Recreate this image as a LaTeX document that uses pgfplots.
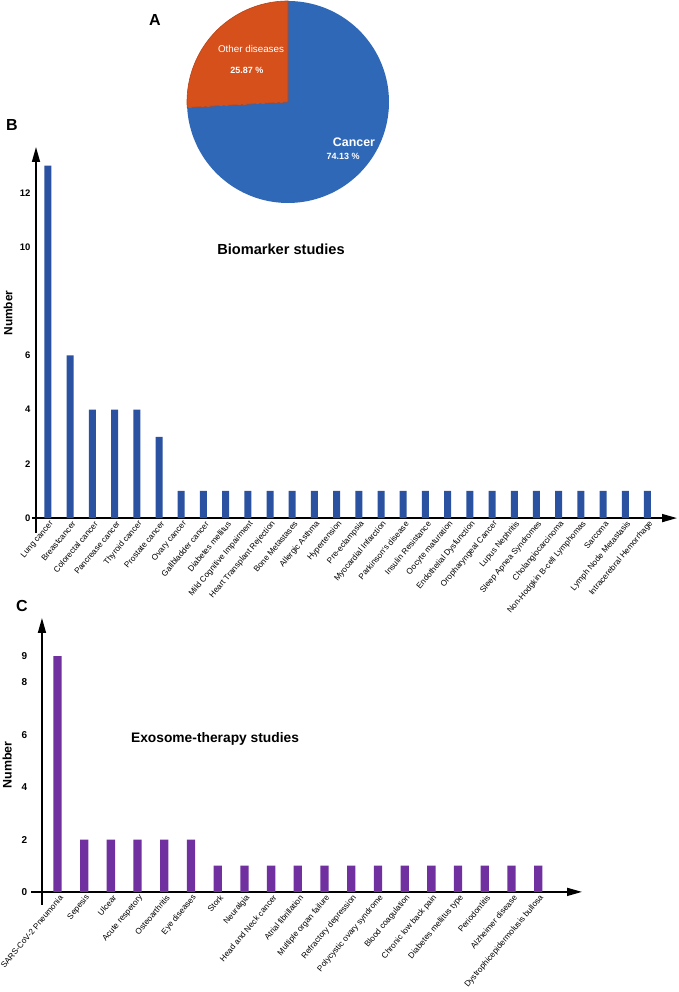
\documentclass[border=0pt]{standalone}
\usepackage{pgfplots}
\pgfplotsset{compat=1.18}
\usepackage{pgfplotstable}
\usepackage{fontspec}
\setmainfont{Liberation Sans}
\usetikzlibrary{arrows.meta}
\definecolor{pieblue}{HTML}{2F68B6}
\definecolor{pieorange}{HTML}{D6501C}
\definecolor{barblue}{HTML}{2A52A0}
\definecolor{barpurple}{HTML}{7030A0}

% share of studies (percent)
\def\pOther{25.87}
\def\pCancer{74.13}

% number of biomarker studies, in the order of the tick labels
\pgfplotstableread{
n
13
6
4
4
4
3
1
1
1
1
1
1
1
1
1
1
1
1
1
1
1
1
1
1
1
1
1
1
}\biomarker

% number of exosome-therapy studies
\pgfplotstableread{
n
9
2
2
2
2
2
1
1
1
1
1
1
1
1
1
1
1
1
1
}\exosome

\pgfplotsset{
  barpanel/.style={
    axis lines=middle,
    scale only axis,
    clip=false,
    ybar,
    tick style={draw=none},
    hide obscured x ticks=false,
    hide obscured y ticks=false,
    every inner x axis line/.append style={line width=1.6pt, -{Triangle[length=15pt,width=8pt]}},
    every inner y axis line/.append style={line width=1.6pt, -{Triangle[length=15pt,width=8pt]}},
    /pgf/number format/assume math mode=true,
    xticklabel style={rotate=50, anchor=east, inner sep=1pt, yshift=-3pt, xshift=3.5pt,
      font=\fontsize{8.2}{9}\selectfont},
    yticklabel style={font=\bfseries\fontsize{9.5}{10}\selectfont},
  },
}

\begin{document}
\begin{tikzpicture}
\useasboundingbox (0pt,0pt) rectangle (679pt,992pt);

% ---- A: pie ----
\begin{axis}[
  at={(187pt,789pt)}, anchor=south west,
  scale only axis, width=202pt, height=202pt,
  xmin=-1, xmax=1, ymin=-1, ymax=1,
  hide axis, clip=false,
]
\pgfmathsetmacro{\aEnd}{90+3.6*\pOther}
\addplot[fill=pieblue, draw=none, samples=120, domain=\aEnd:450, variable=\t]
  ({cos(\t)},{sin(\t)}) -- (axis cs:0,0) -- cycle;
\addplot[fill=pieorange, draw=pieorange!85!black, line width=0.6pt, samples=60, domain=90:\aEnd, variable=\t]
  ({cos(\t)},{sin(\t)}) -- (axis cs:0,0) -- cycle;
\node[white, font=\fontsize{9.8}{11}\selectfont] at (axis cs:-0.366,0.525) {Other diseases};
\node[white, font=\bfseries\fontsize{9}{10}\selectfont] at (axis cs:-0.406,0.317) {\pOther\ \%};
\node[white, font=\bfseries\fontsize{12.4}{14}\selectfont] at (axis cs:0.653,-0.396) {Cancer};
\node[white, font=\bfseries\fontsize{9}{10}\selectfont] at (axis cs:0.545,-0.535) {\pCancer\ \%};
\end{axis}

% ---- B: biomarker studies ----
\begin{axis}[
  barpanel,
  at={(32pt,459pt)}, anchor=south west,
  width=645pt, height=386pt,
  xmin=-0.18, xmax=28.87,
  ymin=-0.55, ymax=13.69,
  bar width=7pt,
  ytick={0,2,4,6,10,12},
  xtick={0.54,1.54,...,27.54},
  xticklabels={Lung cancer, Breastcancer, Colorectal cancer, Pancrease cancer,
    Thyroid cancer, Prostate cancer, Ovary cancer, Gallbladder cancer,
    Diabetes mellitus, Mild Cognitive Impairment, Heart Transplant Rejection,
    Bone Metastases, Allergic Asthma, Hypertension, Pre-eclampsia,
    Myocardial Infarction, Parkinson's disease, Insulin Resistance,
    Oocyte maturation, Endothelial Dysfunction, Oropharyngeal Cancer,
    Lupus Nephritis, Sleep Apnea Syndromes, Cholangiocarcinoma,
    Non-Hodgkin B-cell Lymphomas, Sarcoma, Lymph Node Metastasis,
    Intracerebral Hemorrhage},
  ylabel={Number},
  ylabel style={at={(rel axis cs:-0.037,0.57)}, anchor=center, rotate=90,
    font=\bfseries\fontsize{11.9}{13}\selectfont},
  title={Biomarker studies},
  title style={at={(rel axis cs:0.386,0.72)}, anchor=center,
    font=\bfseries\fontsize{14.6}{16}\selectfont},
]
\addplot[fill=barblue, draw=none] table[x expr=\coordindex+0.54, y=n]{\biomarker};
\end{axis}

% ---- C: exosome-therapy studies ----
\begin{axis}[
  barpanel,
  at={(31pt,87pt)}, anchor=south west,
  width=551pt, height=287pt,
  xmin=-0.41, xmax=20.22,
  ymin=-0.5, ymax=10.46,
  bar width=8.3pt,
  ytick={0,2,4,6,8,9},
  yticklabel style={xshift=-9pt, font=\bfseries\fontsize{10}{11}\selectfont},
  xtick={0.58,1.58,...,18.58},
  xticklabels={SARS-CoV-2 Pneumonia, Sepesis, Ulcear, Acute respetory,
    Osteoarthritis, Eye diseases, Stork, Neuralgia, Head and Neck cancer,
    Atrial fibrillation, Multiple organ failure, Refractory depression,
    Polycystic ovary syndrome, Blood coagulation, Chronic low back pain,
    Diabetes mellitus type, Periodontitis, Alzheimer disease,
    Dystrophicepidermolusis bullosa},
  ylabel={Number},
  ylabel style={at={(rel axis cs:-0.043,0.488)}, anchor=center, rotate=90,
    font=\bfseries\fontsize{12.4}{14}\selectfont},
  title={Exosome-therapy studies},
  title style={at={(rel axis cs:0.334,0.557)}, anchor=center,
    font=\bfseries\fontsize{13.8}{15}\selectfont},
]
\addplot[fill=barpurple, draw=none] table[x expr=\coordindex+0.58, y=n]{\exosome};
\end{axis}

\node[font=\bfseries\fontsize{16}{18}\selectfont] at (155pt,972pt) {A};
\node[font=\bfseries\fontsize{16}{18}\selectfont] at (12pt,867pt) {B};
\node[font=\bfseries\fontsize{16}{18}\selectfont] at (22pt,386pt) {C};
\end{tikzpicture}
\end{document}
